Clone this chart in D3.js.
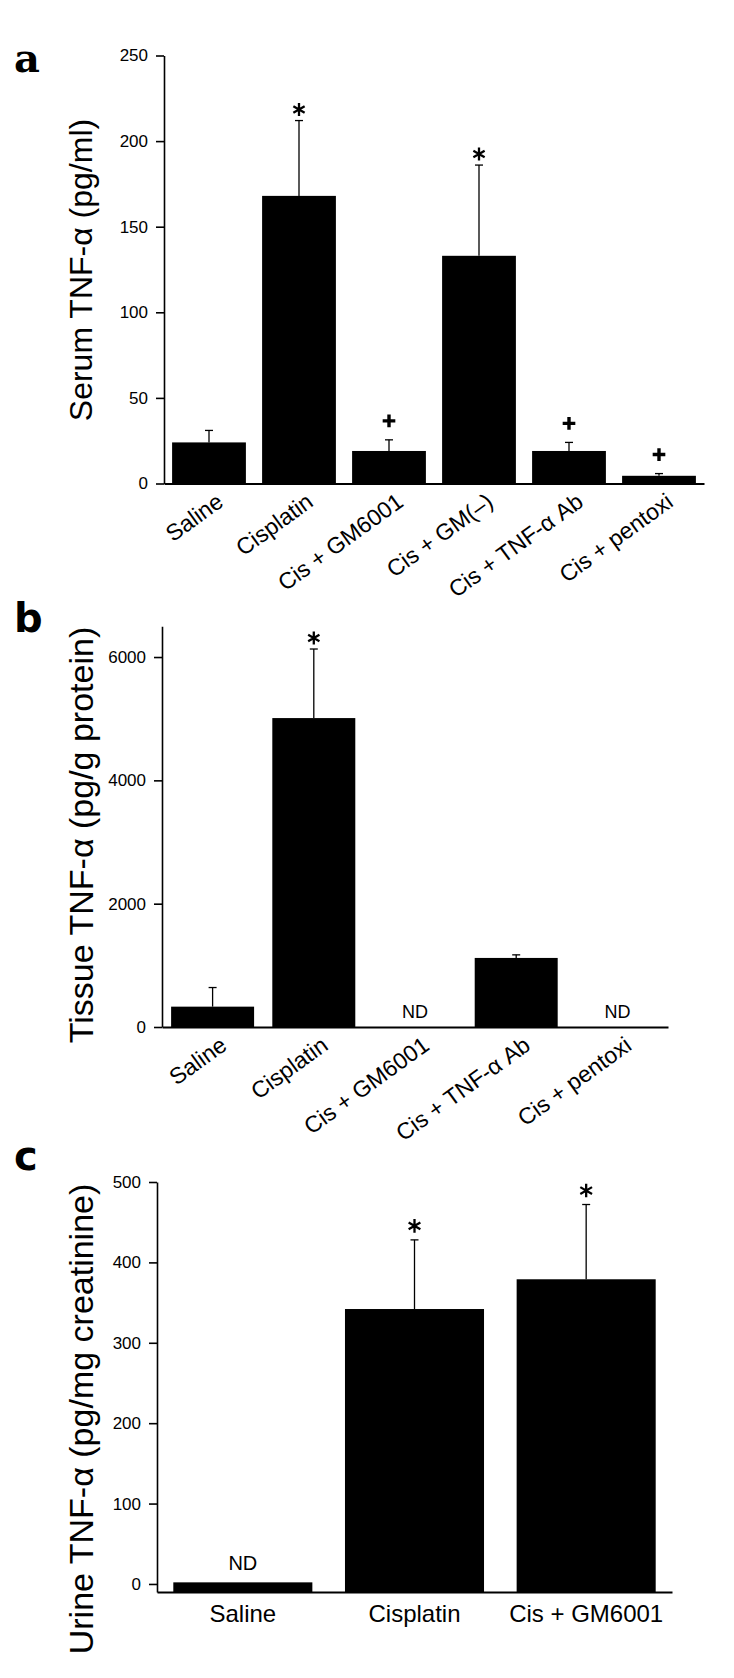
<!DOCTYPE html>
<html><head><meta charset="utf-8">
<script src="https://cdn.jsdelivr.net/npm/d3@7"></script>
<style>
body{margin:0;background:#fff}
svg{display:block}
text{font-family:"Liberation Sans",Arial,Helvetica,sans-serif;fill:#000}
</style>
</head><body>
<svg id="chart" width="734" height="1678"></svg>
<script>
// ---------- Data ----------
const aCats = ["Saline","Cisplatin","Cis + GM6001","Cis + GM(\u2013)","Cis + TNF-\u03b1 Ab","Cis + pentoxi"];
const aVals = [24, 168, 19, 133, 19, 4.5];
const aErrTop = [31, 212, 25.5, 186, 24, 5.8];
const aMarks = ["", "*", "+", "*", "+", "+"];
const aTicks = [0, 50, 100, 150, 200, 250];

const bCats = ["Saline","Cisplatin","Cis + GM6001","Cis + TNF-\u03b1 Ab","Cis + pentoxi"];
const bVals = [330, 5010, 0, 1120, 0];
const bErrTop = [640, 6130, null, 1170, null];
const bMarks = ["", "*", "ND", "", "ND"];
const bTicks = [0, 2000, 4000, 6000];

const cCats = ["Saline","Cisplatin","Cis + GM6001"];
const cVals = [2, 342, 379];
const cErrTop = [null, 428, 472];
const cMarks = ["ND", "*", "*"];
const cTicks = [0, 100, 200, 300, 400, 500];

// ---------- Symbols ----------
const asteriskType = {draw(ctx, size){
  const r = Math.sqrt(size) * 0.59436, t = r / 2, u = t * Math.sqrt(3);
  ctx.moveTo(0, r); ctx.lineTo(0, -r);
  ctx.moveTo(-u, -t); ctx.lineTo(u, t);
  ctx.moveTo(-u, t); ctx.lineTo(u, -t);
}};
const plusType = {draw(ctx, size){
  const r = Math.sqrt(size) * 0.5;
  ctx.moveTo(-r, 0); ctx.lineTo(r, 0);
  ctx.moveTo(0, -r); ctx.lineTo(0, r);
}};

const svg = d3.select("#chart");

function panel(cfg){
  const g = svg.append("g");
  const x = d3.scaleBand().domain(cfg.cats).range(cfg.xRange).paddingInner(cfg.pad).paddingOuter(cfg.pad/2);
  const y = d3.scaleLinear().domain(cfg.yDomain).range(cfg.yRange);
  const base = y(cfg.yDomain[0]);

  // panel letter
  g.append("text").attr("x", cfg.letter[1]).attr("y", cfg.letter[2])
    .style("font-family", cfg.letterFont).style("font-weight", "bold").style("font-size", "40px")
    .text(cfg.letter[0]);

  // bars
  g.selectAll("rect.bar").data(cfg.cats).join("rect")
    .attr("x", d => x(d)).attr("width", x.bandwidth())
    .attr("y", (d,i) => y(cfg.vals[i])).attr("height", (d,i) => base - y(cfg.vals[i]))
    .attr("fill", "#000");

  // error bars
  const eb = cfg.cats.map((d,i) => ({d, i, top: cfg.errTop[i]})).filter(o => o.top != null);
  g.selectAll("line.err").data(eb).join("line")
    .attr("x1", o => x(o.d) + x.bandwidth()/2).attr("x2", o => x(o.d) + x.bandwidth()/2)
    .attr("y1", o => y(cfg.vals[o.i])).attr("y2", o => y(o.top))
    .attr("stroke", "#000").attr("stroke-width", 1.3);
  g.selectAll("line.cap").data(eb).join("line")
    .attr("x1", o => x(o.d) + x.bandwidth()/2 - 4).attr("x2", o => x(o.d) + x.bandwidth()/2 + 4)
    .attr("y1", o => y(o.top)).attr("y2", o => y(o.top))
    .attr("stroke", "#000").attr("stroke-width", 1.3);

  // marks
  cfg.cats.forEach((d,i) => {
    const m = cfg.marks[i]; if (!m) return;
    const cx = x(d) + x.bandwidth()/2;
    const top = cfg.errTop[i] != null ? y(cfg.errTop[i]) : y(cfg.vals[i]);
    if (m === "*") {
      g.append("path").attr("transform", `translate(${cx},${top - cfg.astOff})`)
        .attr("d", d3.symbol().type(asteriskType).size(cfg.astSize)())
        .attr("stroke", "#000").attr("stroke-width", 2.3).attr("fill", "none");
    } else if (m === "+") {
      g.append("path").attr("transform", `translate(${cx},${top - 19})`)
        .attr("d", d3.symbol().type(plusType).size(160)())
        .attr("stroke", "#000").attr("stroke-width", 3.4).attr("fill", "none");
    } else {
      g.append("text").attr("x", cx).attr("y", top - cfg.ndOff).attr("text-anchor", "middle")
        .style("font-size", cfg.ndSize + "px").text(m);
    }
  });

  // y axis
  const ya = g.append("g").attr("transform", `translate(${cfg.xRange[0]},0)`)
    .call(d3.axisLeft(y).tickValues(cfg.ticks).tickSizeOuter(0).tickSizeInner(8).tickPadding(8).tickFormat(d3.format("d")));
  ya.select(".domain").attr("stroke-width", 1.6);
  ya.selectAll(".tick line").attr("stroke-width", 1.6);
  ya.selectAll(".tick text").style("font-size", "17px").style("font-family", '"Liberation Sans",Arial,sans-serif');

  // x axis
  const xa = g.append("g").attr("transform", `translate(0,${base})`)
    .call(d3.axisBottom(x).tickSize(0).tickSizeOuter(0).tickFormat(""));
  xa.select(".domain").attr("stroke-width", 2.2);
  xa.selectAll(".tick").remove();

  // x labels
  if (cfg.rotate) {
    g.selectAll("text.xl").data(cfg.cats).join("text")
      .attr("transform", d => `translate(${x(d) + x.bandwidth()/2 + 6},${base + 8}) rotate(${cfg.rotate})`)
      .attr("text-anchor", "end").attr("dy", "0.72em")
      .style("font-size", cfg.xFont + "px").text(d => d);
  } else {
    g.selectAll("text.xl").data(cfg.cats).join("text")
      .attr("x", d => x(d) + x.bandwidth()/2).attr("y", base + 30)
      .attr("text-anchor", "middle")
      .style("font-size", cfg.xFont + "px").text(d => d);
  }

  // y title
  g.append("text").attr("transform", `translate(${cfg.title[1]},${cfg.title[2]}) rotate(-90)`)
    .attr("text-anchor", "middle").style("font-size", cfg.titleSize + "px").text(cfg.title[0]);
}

panel({
  cats: aCats, vals: aVals, errTop: aErrTop, marks: aMarks, ticks: aTicks,
  xRange: [164, 704], pad: 0.18, yDomain: [0, 250], yRange: [483.5, 55.5],
  letter: ["a", 14, 72], letterFont: '"DejaVu Serif",serif',
  title: ["Serum TNF-\u03b1 (pg/ml)", 92, 270], titleSize: 32,
  rotate: -36, xFont: 23, astOff: 11, astSize: 120, ndOff: 12, ndSize: 18
});

panel({
  cats: bCats, vals: bVals, errTop: bErrTop, marks: bMarks, ticks: bTicks,
  xRange: [162, 668], pad: 0.18, yDomain: [0, 6500], yRange: [1027, 626.2],
  letter: ["b", 14, 632], letterFont: '"DejaVu Sans",sans-serif',
  title: ["Tissue TNF-\u03b1 (pg/g protein)", 93, 835], titleSize: 34,
  rotate: -36, xFont: 23, astOff: 11, astSize: 120, ndOff: 9, ndSize: 18
});

panel({
  cats: cCats, vals: cVals, errTop: cErrTop, marks: cMarks, ticks: cTicks,
  xRange: [157, 672], pad: 0.19, yDomain: [-10, 500], yRange: [1592, 1182],
  letter: ["c", 14, 1170], letterFont: '"DejaVu Sans",sans-serif',
  title: ["Urine TNF-\u03b1 (pg/mg creatinine)", 93, 1419], titleSize: 34,
  rotate: 0, xFont: 24, astOff: 14, astSize: 130, ndOff: 12, ndSize: 20
});
</script>
</body></html>
